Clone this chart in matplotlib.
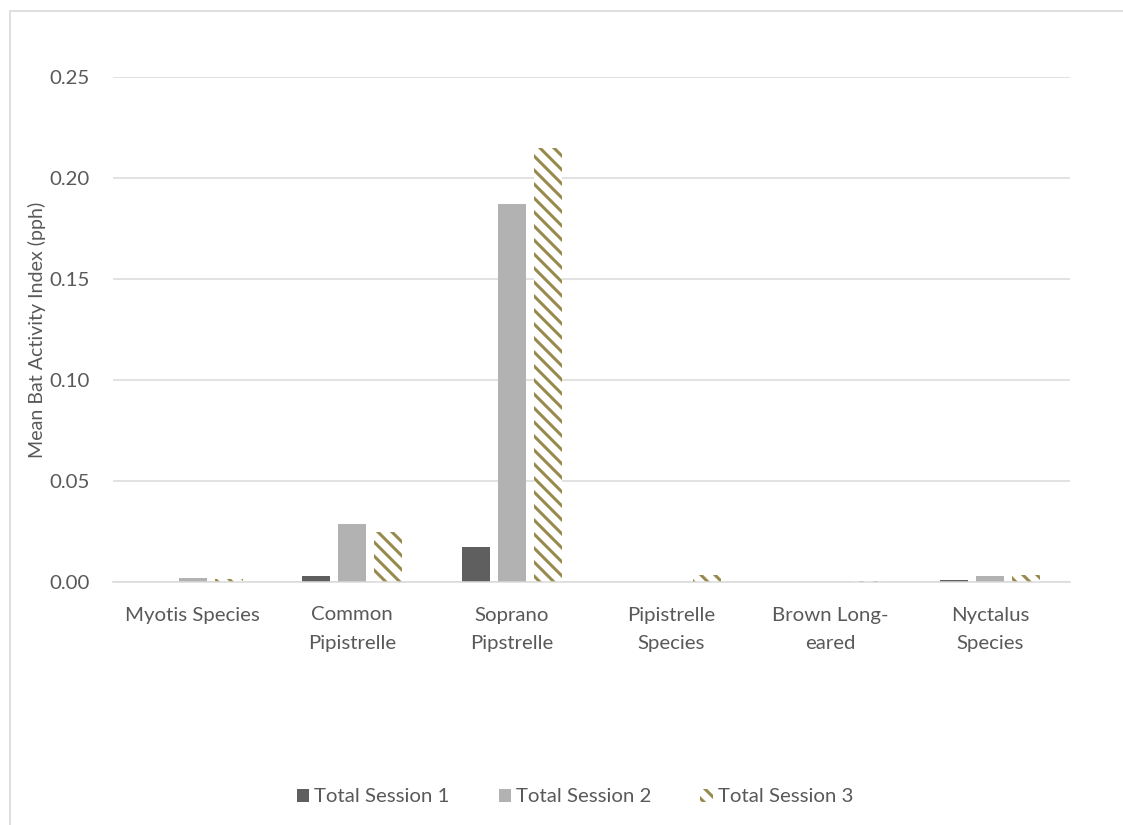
import numpy as np
import matplotlib
matplotlib.use("Agg")
import matplotlib.pyplot as plt
from matplotlib.patches import Rectangle, Patch

categories = ["Myotis Species", "Common\nPipistrelle", "Soprano\nPipstrelle",
              "Pipistrelle\nSpecies", "Brown Long-\neared", "Nyctalus\nSpecies"]
session1 = [0.0, 0.0032, 0.0173, 0.0, 0.0, 0.0008]
session2 = [0.0018, 0.0289, 0.187, 0.0, 0.0, 0.0028]
session3 = [0.0015, 0.0246, 0.215, 0.0034, 0.0006, 0.0035]
series_names = ["Total Session 1", "Total Session 2", "Total Session 3"]
yticks = [0.00, 0.05, 0.10, 0.15, 0.20, 0.25]

DPI = 84
HATCH_COLOR = "#988A4E"
TEXT_COLOR = "#595959"
GRID_COLOR = "#D9D9D9"

plt.rcParams["font.family"] = ["Lato", "DejaVu Sans"]
plt.rcParams["hatch.linewidth"] = 2.6
plt.rcParams["hatch.color"] = HATCH_COLOR

fig = plt.figure(figsize=(1123 / DPI, 825 / DPI), dpi=DPI)
ax = fig.add_axes([113 / 1123, 1 - 582 / 825, (1070 - 113) / 1123, (582 - 77) / 825])

# outer chart frame (runs off the right and bottom edges)
fig.patches.append(Rectangle((10 / 1123, -0.1), 1.2, 1 - 11 / 825 + 0.1,
                             transform=fig.transFigure, fill=False,
                             edgecolor=GRID_COLOR, linewidth=1.4))

x = np.arange(len(categories))
w = 0.175
step = 0.225
ax.bar(x - step, session1, w, color="#5F5F5F", zorder=3)
ax.bar(x, session2, w, color="#B2B2B2", zorder=3)
ax.bar(x + step, session3, w, color="white", hatch="\\\\", edgecolor=HATCH_COLOR,
       linewidth=0, zorder=3)

ax.set_xlim(-0.5, len(categories) - 0.5)
ax.set_ylim(0, 0.25)
ax.set_yticks(yticks)
ax.set_yticklabels([f"{v:.2f}" for v in yticks])
ax.set_xticks(x)
ax.set_xticklabels(categories, linespacing=1.8)
ax.tick_params(axis="both", length=0, colors=TEXT_COLOR, labelsize=17.5)
ax.tick_params(axis="y", pad=20)
ax.tick_params(axis="x", pad=21)

ax.grid(axis="y", color=GRID_COLOR, linewidth=1.3, zorder=0)
for s in ["left", "right", "top"]:
    ax.spines[s].set_visible(False)
ax.spines["bottom"].set_color(GRID_COLOR)
ax.spines["bottom"].set_linewidth(1.3)
ax.spines["bottom"].set_zorder(4)

ax.set_ylabel("Mean Bat Activity Index (pph)", fontsize=16.8, color=TEXT_COLOR,
              labelpad=3)

handles = [Patch(facecolor="#5F5F5F"), Patch(facecolor="#B2B2B2"),
           Patch(facecolor="white", hatch="\\\\", edgecolor=HATCH_COLOR, linewidth=0)]
fig.legend(handles, series_names, loc="center", bbox_to_anchor=(575 / 1123, 1 - 797 / 825),
           ncol=3, frameon=False, fontsize=17.5, labelcolor=TEXT_COLOR,
           handlelength=0.6, handleheight=0.6, handletextpad=0.25, columnspacing=2.4)

fig.savefig("out.png", dpi=DPI, facecolor="white")
